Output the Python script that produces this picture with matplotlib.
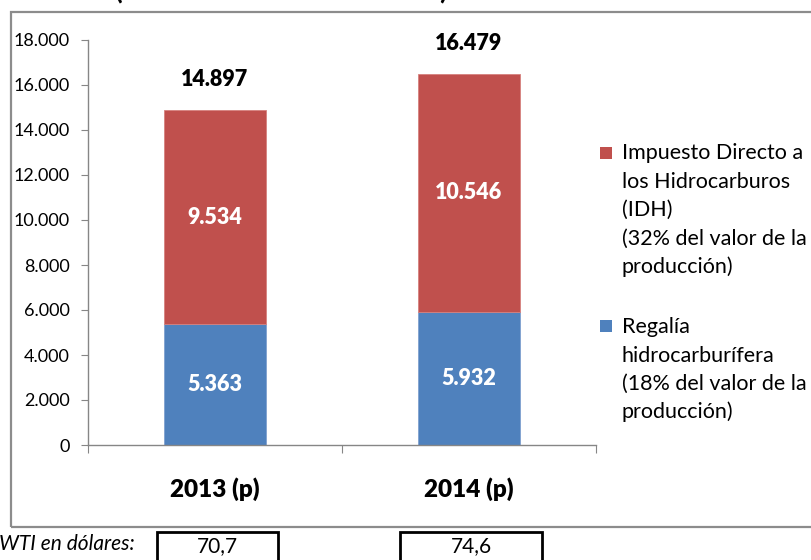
import matplotlib
matplotlib.use("Agg")
import matplotlib.pyplot as plt
from matplotlib.patches import Rectangle
from matplotlib.ticker import FuncFormatter

plt.rcParams['font.family'] = ['Lato', 'DejaVu Sans']

# ---- data ----
categories = ["2013 (p)", "2014 (p)"]
regalia = [5363, 5932]
idh = [9534, 10546]
totals = [14897, 16479]
wti_values = ["70,7", "74,6"]
wti_label = "WTI en dólares:"
legend_idh = ["Impuesto Directo a", "los Hidrocarburos", "(IDH)", "(32% del valor de la", "producción)"]
legend_reg = ["Regalía", "hidrocarburífera", "(18% del valor de la", "producción)"]
title_text = "(En millones de bolivianos)"

RED = "#C0504D"
BLUE = "#4F81BD"
GRAY = "#868686"
BOLD = "heavy"

W, H = 812, 560
fig = plt.figure(figsize=(W / 100, H / 100), dpi=100)


def fx(x):
    return x / W


def fy(y):
    return (H - y) / H


# outer chart frame
fig.patches.append(Rectangle((fx(11), fy(527)), 1.05 - fx(11), fy(12) - fy(527),
                             transform=fig.transFigure, fill=False, edgecolor="#8C8C8C",
                             linewidth=1.6, clip_on=False))

# cut-off title (only the bottom of its parentheses is visible)
t = fig.text(fx(281), fy(-1), title_text, ha="center", va="baseline", fontsize=17,
             fontweight="bold")
r = fig.canvas.get_renderer()
wpx = t.get_window_extent(renderer=r).width
t.set_fontsize(17 * 333 / wpx)

ax = fig.add_axes([fx(88), fy(445), fx(596) - fx(88), fy(40) - fy(445)])
x = list(range(len(categories)))
bw = 0.4
ax.bar(x, regalia, bw, color=BLUE, edgecolor="#7FA1CF", linewidth=0.6)
ax.bar(x, idh, bw, bottom=regalia, color=RED, edgecolor="#D6817E", linewidth=0.6)

for i in x:
    ax.text(i, regalia[i] / 2, f"{regalia[i]:,}".replace(",", "."), ha="center", va="center",
            color="white", fontsize=15.5, fontweight=BOLD)
    ax.text(i, regalia[i] + idh[i] / 2, f"{idh[i]:,}".replace(",", "."), ha="center",
            va="center", color="white", fontsize=15.5, fontweight=BOLD)
    ax.annotate(f"{totals[i]:,}".replace(",", "."), xy=(i, totals[i]), xytext=(0, 20),
                textcoords="offset pixels", ha="center", va="bottom", fontsize=15.5,
                fontweight=BOLD)

ax.set_xlim(-0.5, 1.5)
ax.set_ylim(0, 18000)
ax.set_yticks(range(0, 18001, 2000))
ax.yaxis.set_major_formatter(FuncFormatter(lambda v, p: f"{int(v):,}".replace(",", ".")))
ax.set_xticks([-0.5, 0.5, 1.5])
ax.set_xticklabels([])
ax.tick_params(axis="y", direction="out", length=5, color=GRAY, labelsize=13, pad=8)
ax.tick_params(axis="x", direction="out", length=6, color=GRAY)
for s in ["top", "right"]:
    ax.spines[s].set_visible(False)
for s in ["left", "bottom"]:
    ax.spines[s].set_color(GRAY)
    ax.spines[s].set_linewidth(1.0)

for i, c in enumerate(categories):
    ax.annotate(c, xy=(i, 0), xytext=(0, -44), textcoords="offset pixels", ha="center",
                va="center", fontsize=17.5, fontweight=BOLD, annotation_clip=False)


# legend
def legend_block(color, lines, sq_top, base0):
    fig.patches.append(Rectangle((fx(600), fy(sq_top + 12)), fx(12), fy(sq_top) - fy(sq_top + 12),
                                 transform=fig.transFigure, facecolor=color, edgecolor="none"))
    for k, ln in enumerate(lines):
        fig.text(fx(622), fy(base0 + k * 28.5), ln, ha="left", va="baseline", fontsize=15.5)


legend_block(RED, legend_idh, 147, 159)
legend_block(BLUE, legend_reg, 320, 333)

# WTI row
fig.text(fx(135), fy(544), wti_label, ha="right", va="center", fontsize=15, style="italic")
boxes = [(157, 278), (400, 542)]
for (l, rr), v in zip(boxes, wti_values):
    fig.patches.append(Rectangle((fx(l), fy(575)), fx(rr - l), fy(532) - fy(575),
                                 transform=fig.transFigure, fill=False, edgecolor="black",
                                 linewidth=2, clip_on=False))
    fig.text(fx((l + rr) / 2), fy(546), v, ha="center", va="center", fontsize=15)

fig.savefig("out.png", dpi=100)
